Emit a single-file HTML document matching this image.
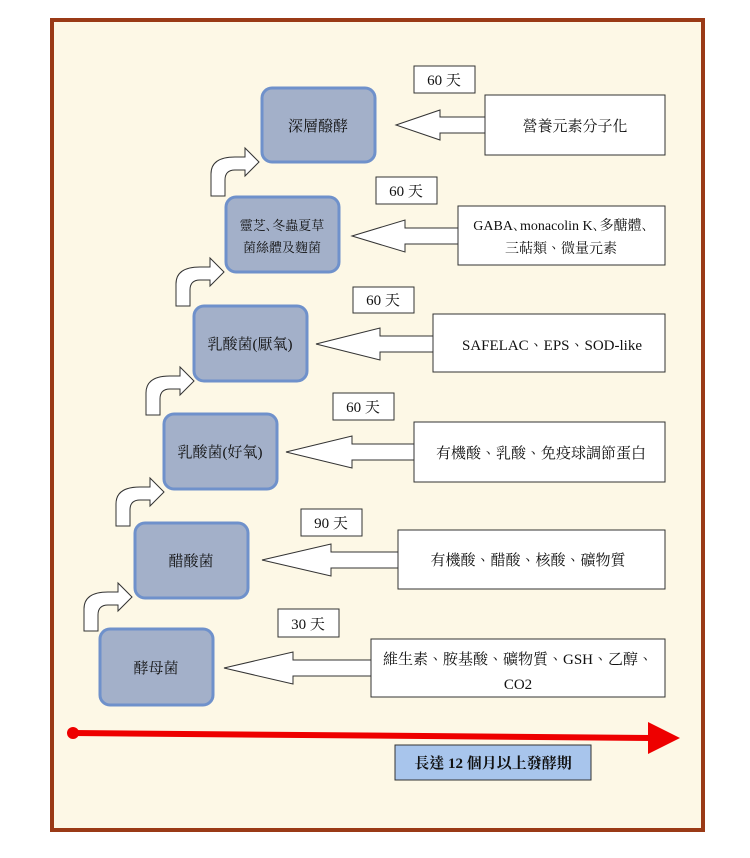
<!DOCTYPE html>
<html><head><meta charset="utf-8"><style>
body{margin:0;background:#fff;}
svg text{font-family:"Liberation Serif","Noto Serif CJK TC","Noto Sans CJK TC",serif;}
</style></head><body>
<svg width="750" height="853" xmlns="http://www.w3.org/2000/svg">
<rect x="52" y="20" width="651" height="810" fill="#fdf8e6" stroke="#9a3a16" stroke-width="4"/>
<defs>
<path id="ba" d="M0 0 L0 -22 Q0 -39 24 -39 L34 -39 L34 -48 L48 -34 L34 -20 L34 -26 L24 -26 Q14 -26 14 -16 L14 0 Z" fill="#fff" stroke="#333" stroke-width="1"/>
</defs>
<use href="#ba" x="84" y="631"/>
<use href="#ba" x="116" y="526"/>
<use href="#ba" x="146" y="415"/>
<use href="#ba" x="176" y="306"/>
<use href="#ba" x="211" y="196"/>
<g fill="#a3b0c9" stroke="#6f91cb" stroke-width="3">
<rect x="262" y="88" width="113" height="74" rx="10"/>
<rect x="226" y="197" width="113" height="75" rx="10"/>
<rect x="194" y="306" width="113" height="75" rx="10"/>
<rect x="164" y="414" width="113" height="75" rx="10"/>
<rect x="135" y="523" width="113" height="75" rx="10"/>
<rect x="100" y="629" width="113" height="76" rx="10"/>
</g>
<g font-size="15" fill="#111" text-anchor="middle">
<text x="318" y="131">深層醱酵</text>
<text x="282" y="230" font-size="13">靈芝､冬蟲夏草</text>
<text x="282" y="252" font-size="13">菌絲體及麴菌</text>
<text x="250" y="349">乳酸菌(厭氧)</text>
<text x="220" y="457">乳酸菌(好氧)</text>
<text x="191" y="566">醋酸菌</text>
<text x="156" y="673">酵母菌</text>
</g>
<g fill="#fff" stroke="#333" stroke-width="1">
<path d="M396 125 L440 110 L440 117 L486 117 L486 133 L440 133 L440 140 Z"/>
<path d="M352 236 L405 220 L405 228 L459 228 L459 244 L405 244 L405 252 Z"/>
<path d="M316 344 L380 328 L380 336 L434 336 L434 352 L380 352 L380 360 Z"/>
<path d="M286 452 L352 436 L352 444 L415 444 L415 460 L352 460 L352 468 Z"/>
<path d="M262 560 L331 544 L331 552 L399 552 L399 568 L331 568 L331 576 Z"/>
<path d="M224 668 L293 652 L293 660 L372 660 L372 676 L293 676 L293 684 Z"/>
</g>
<g fill="#fff" stroke="#333" stroke-width="1">
<rect x="485" y="95" width="180" height="60"/>
<rect x="458" y="206" width="207" height="59"/>
<rect x="433" y="314" width="232" height="58"/>
<rect x="414" y="422" width="251" height="60"/>
<rect x="398" y="530" width="267" height="59"/>
<rect x="371" y="639" width="294" height="58"/>
<rect x="414" y="66" width="61" height="27"/>
<rect x="376" y="177" width="61" height="27"/>
<rect x="353" y="287" width="61" height="26"/>
<rect x="333" y="393" width="61" height="27"/>
<rect x="301" y="509" width="61" height="27"/>
<rect x="278" y="609" width="61" height="28"/>
</g>
<g font-size="15" fill="#111" text-anchor="middle">
<text x="575" y="131">營養元素分子化</text>
<text x="561" y="230" font-size="14">GABA､monacolin K､多醣體､</text>
<text x="561" y="253" font-size="14">三萜類、微量元素</text>
<text x="552" y="350">SAFELAC、EPS、SOD-like</text>
<text x="541" y="458">有機酸、乳酸、免疫球調節蛋白</text>
<text x="528" y="565">有機酸、醋酸、核酸、礦物質</text>
<text x="518" y="664">維生素、胺基酸、礦物質、GSH、乙醇、</text>
<text x="518" y="689">CO2</text>
<text x="444" y="85">60 天</text>
<text x="406" y="196">60 天</text>
<text x="383" y="305">60 天</text>
<text x="363" y="412">60 天</text>
<text x="331" y="528">90 天</text>
<text x="308" y="629">30 天</text>
</g>
<circle cx="73" cy="733" r="6" fill="#ee0000"/>
<path d="M73 730 L652 735 L652 741 L73 736 Z" fill="#ee0000"/>
<path d="M648 722 L680 738 L648 754 Z" fill="#ee0000"/>
<rect x="395" y="745" width="196" height="35" fill="#a8c5ec" stroke="#333" stroke-width="1"/>
<text x="493" y="768" font-size="15" font-weight="bold" text-anchor="middle" fill="#111">長達 12 個月以上發酵期</text>
</svg>
</body></html>
